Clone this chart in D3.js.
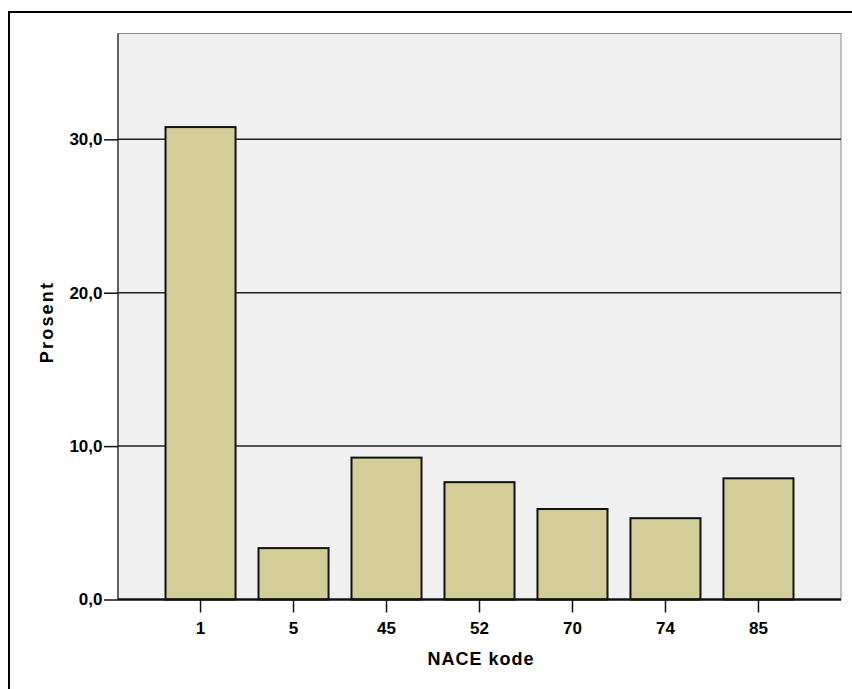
<!DOCTYPE html>
<html>
<head>
<meta charset="UTF-8">
<script src="https://cdnjs.cloudflare.com/ajax/libs/d3/7.8.5/d3.min.js"></script>
<style>
  body { margin: 0; background: #fff; }
  svg text { font-family: Arial, "Liberation Sans", sans-serif; font-weight: bold; fill: #000; }
</style>
</head>
<body>
<div id="chart"></div>
<script>
// NACE codes and percent share
const categories = ["1", "5", "45", "52", "70", "74", "85"];
const values = [30.8, 3.35, 9.25, 7.65, 5.9, 5.3, 7.9];
const yTicks = [0, 10, 20, 30];
const yMax = 36.9;

const width = 852, height = 689;
const plot = { left: 118, top: 33.5, right: 841, bottom: 599.5 };

const svg = d3.select("#chart").append("svg")
  .attr("width", width)
  .attr("height", height);

// outer frame
svg.append("rect")
  .attr("x", 9).attr("y", 12)
  .attr("width", width + 10).attr("height", height + 10)
  .attr("fill", "none").attr("stroke", "#000").attr("stroke-width", 2);

const x = d3.scaleBand()
  .domain(categories)
  .range([plot.left, plot.right])
  .paddingInner(0.247)
  .paddingOuter(0.511);

const y = d3.scaleLinear()
  .domain([0, yMax])
  .range([plot.bottom, plot.top]);

// plot background
svg.append("rect")
  .attr("x", plot.left).attr("y", plot.top)
  .attr("width", plot.right - plot.left).attr("height", plot.bottom - plot.top)
  .attr("fill", "#f0f0f0")
  .attr("stroke", "#888").attr("stroke-width", 1);

// gridlines
svg.append("g")
  .selectAll("line")
  .data(yTicks.filter(d => d > 0))
  .enter().append("line")
  .attr("x1", plot.left).attr("x2", plot.right)
  .attr("y1", d => y(d)).attr("y2", d => y(d))
  .attr("stroke", "#222").attr("stroke-width", 1.5);

// left edge of plot
svg.append("line")
  .attr("x1", plot.left).attr("x2", plot.left)
  .attr("y1", plot.top).attr("y2", plot.bottom)
  .attr("stroke", "#222").attr("stroke-width", 1.2);

// bars
svg.append("g")
  .selectAll("rect")
  .data(values)
  .enter().append("rect")
  .attr("x", (d, i) => x(categories[i]))
  .attr("y", d => y(d))
  .attr("width", x.bandwidth())
  .attr("height", d => y(0) - y(d))
  .attr("fill", "#d3ce98")
  .attr("stroke", "#111")
  .attr("stroke-width", 2);

// y axis
const yAxis = svg.append("g")
  .attr("transform", `translate(${plot.left},0)`)
  .call(d3.axisLeft(y).tickValues(yTicks).tickSize(14).tickPadding(1.5)
    .tickFormat(d => d3.format(".1f")(d).replace(".", ",")));
yAxis.select(".domain").remove();
yAxis.selectAll(".tick line").attr("stroke", "#111").attr("stroke-width", 1.5);
yAxis.selectAll("text").style("font-size", "17px");

// x axis
const xAxis = svg.append("g")
  .attr("transform", `translate(0,${plot.bottom})`)
  .call(d3.axisBottom(x).tickSize(13).tickPadding(9));
xAxis.select(".domain").attr("d", `M${plot.left},0H${plot.right}`)
  .attr("stroke", "#111").attr("stroke-width", 2.5);
xAxis.selectAll(".tick line").attr("stroke", "#111").attr("stroke-width", 1.5);
xAxis.selectAll("text").style("font-size", "17px");

// axis titles
svg.append("text")
  .attr("x", 481)
  .attr("y", 665)
  .attr("text-anchor", "middle")
  .style("font-size", "18px")
  .style("letter-spacing", "1px")
  .text("NACE kode");

svg.append("text")
  .attr("transform", "translate(53,322) rotate(-90)")
  .attr("text-anchor", "middle")
  .style("font-size", "18px")
  .style("letter-spacing", "2.2px")
  .text("Prosent");
</script>
</body>
</html>
